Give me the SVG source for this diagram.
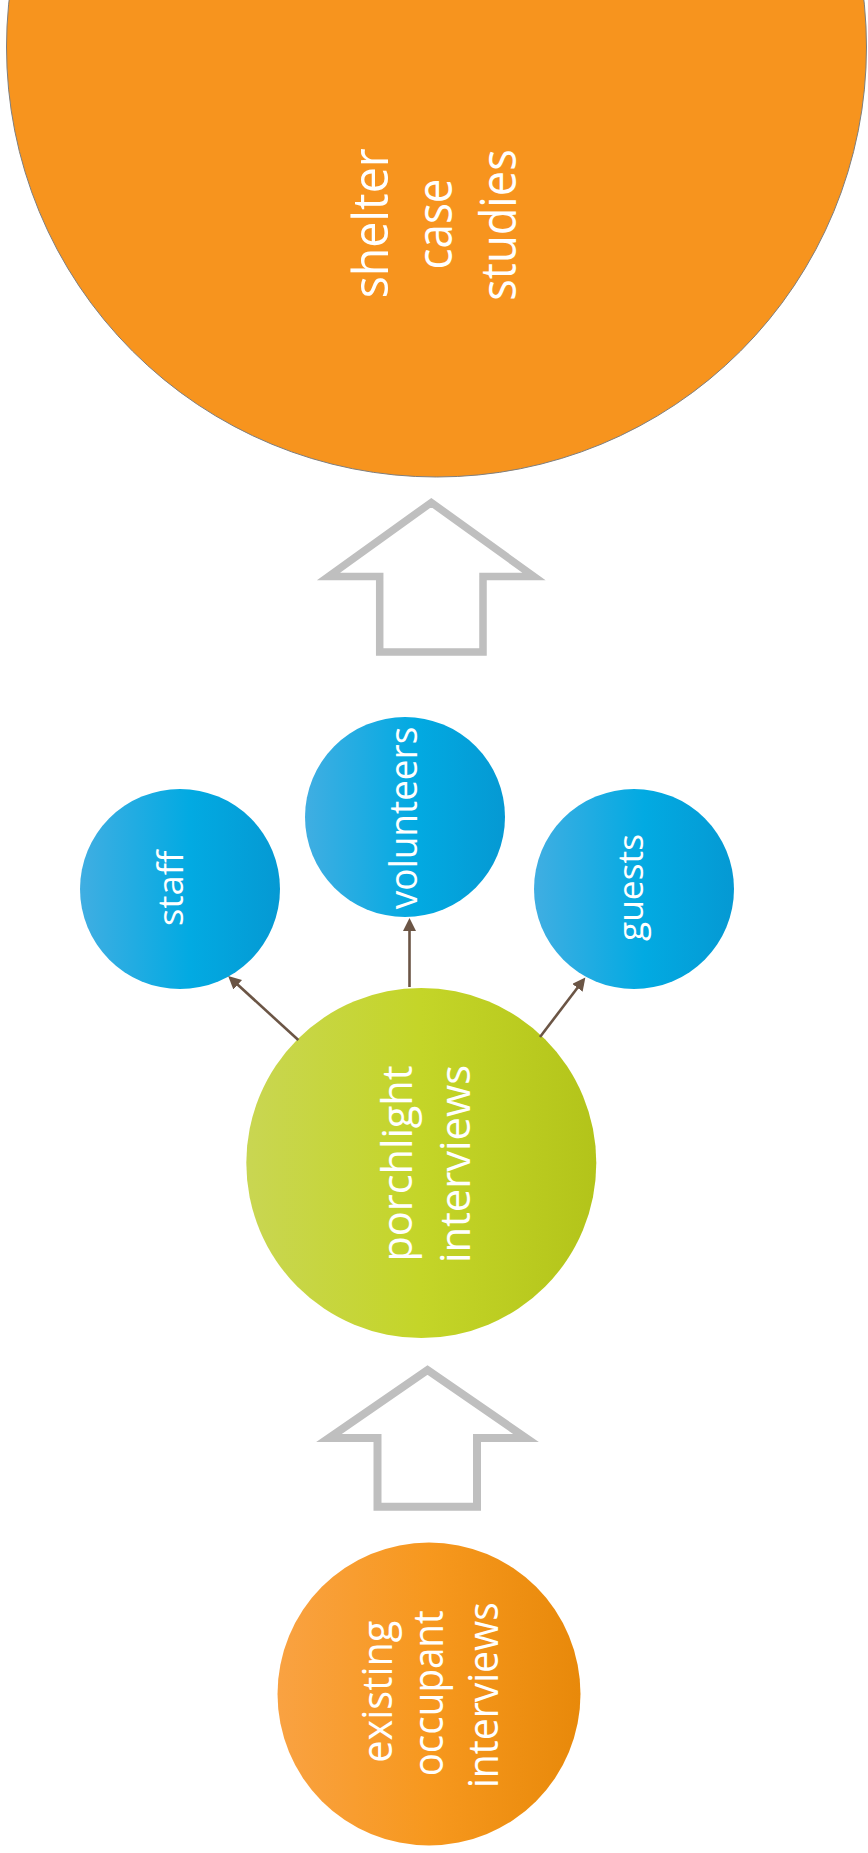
<svg xmlns="http://www.w3.org/2000/svg" width="868" height="1853" viewBox="0 0 868 1853">
  <style>
    .lbl { font-family: "Open Sans", "Noto Sans", "Liberation Sans", sans-serif; fill: #ffffff; text-anchor: middle; }
    .bigarrow { fill: #ffffff; stroke: #BFBFBF; stroke-linejoin: miter; stroke-miterlimit: 10; }
    .conn { stroke: #6B5545; stroke-width: 2.6; fill: none; }
  </style>
  <defs>
    <linearGradient id="gBlue" x1="0" y1="0" x2="1" y2="0">
      <stop offset="0" stop-color="#40AEE2"/>
      <stop offset="0.55" stop-color="#02AAE2"/>
      <stop offset="1" stop-color="#0599D3"/>
    </linearGradient>
    <linearGradient id="gGreen" x1="0" y1="0" x2="1" y2="0">
      <stop offset="0" stop-color="#C9D652"/>
      <stop offset="0.5" stop-color="#C4D528"/>
      <stop offset="1" stop-color="#B3C41A"/>
    </linearGradient>
    <linearGradient id="gOrange" x1="0" y1="0" x2="1" y2="0">
      <stop offset="0" stop-color="#F9A242"/>
      <stop offset="0.5" stop-color="#F7981E"/>
      <stop offset="1" stop-color="#E8890A"/>
    </linearGradient>
    <marker id="ah" markerUnits="userSpaceOnUse" markerWidth="14" markerHeight="13" refX="7" refY="6.5" orient="auto">
      <path d="M0,0 L13,6.5 L0,13 Z" fill="#6B5545"/>
    </marker>
  </defs>

  <g id="shelter-case-studies">
    <circle cx="436.5" cy="47" r="430" fill="#F7941E" stroke="#7F7F7F" stroke-width="1"/>
    <text class="lbl" font-size="50" transform="translate(388.3,223.3) rotate(-90)" textLength="150" lengthAdjust="spacingAndGlyphs">shelter</text>
    <text class="lbl" font-size="50" transform="translate(451.7,224) rotate(-90)" textLength="91" lengthAdjust="spacingAndGlyphs">case</text>
    <text class="lbl" font-size="50" transform="translate(516,225) rotate(-90)" textLength="151.5" lengthAdjust="spacingAndGlyphs">studies</text>
  </g>

  <g id="arrow-up-1">
    <path class="bigarrow" stroke-width="7.5" d="M431.3,502.5 L534,576.5 L483,576.5 L483,652 L379.7,652 L379.7,576.5 L328.5,576.5 Z"/>
  </g>

  <g id="staff">
    <circle cx="180" cy="889" r="100" fill="url(#gBlue)"/>
    <text class="lbl" font-size="35.5" transform="translate(183.3,888.3) rotate(-90)" textLength="75.5" lengthAdjust="spacingAndGlyphs">staff</text>
  </g>

  <g id="volunteers">
    <circle cx="405" cy="817" r="100" fill="url(#gBlue)"/>
    <text class="lbl" font-size="37.5" transform="translate(416.7,818) rotate(-90)" textLength="182.5" lengthAdjust="spacingAndGlyphs">volunteers</text>
  </g>

  <g id="guests">
    <circle cx="634" cy="889" r="100" fill="url(#gBlue)"/>
    <text class="lbl" font-size="35.5" transform="translate(643.3,887.5) rotate(-90)" textLength="107" lengthAdjust="spacingAndGlyphs">guests</text>
  </g>

  <g id="porchlight-interviews">
    <circle cx="421.3" cy="1163" r="175" fill="url(#gGreen)"/>
    <text class="lbl" font-size="42.5" transform="translate(412,1163.5) rotate(-90)" textLength="196" lengthAdjust="spacingAndGlyphs">porchlight</text>
    <text class="lbl" font-size="42.5" transform="translate(470,1164) rotate(-90)" textLength="198" lengthAdjust="spacingAndGlyphs">interviews</text>
  </g>

  <g id="arrow-up-2">
    <path class="bigarrow" stroke-width="8" d="M427.5,1370 L526,1438 L477,1438 L477,1506.7 L377.5,1506.7 L377.5,1438 L329,1438 Z"/>
  </g>

  <g id="existing-occupant-interviews">
    <circle cx="429" cy="1694" r="151.5" fill="url(#gOrange)"/>
    <text class="lbl" font-size="41.5" transform="translate(391.7,1691.7) rotate(-90)" textLength="142" lengthAdjust="spacingAndGlyphs">existing</text>
    <text class="lbl" font-size="41.5" transform="translate(443.3,1693.3) rotate(-90)" textLength="166" lengthAdjust="spacingAndGlyphs">occupant</text>
    <text class="lbl" font-size="41.5" transform="translate(498.3,1695) rotate(-90)" textLength="186" lengthAdjust="spacingAndGlyphs">interviews</text>
  </g>

  <g id="connectors">
    <line class="conn" x1="298.3" y1="1040" x2="232.6" y2="980" marker-end="url(#ah)"/>
    <line class="conn" x1="409.5" y1="987" x2="409.5" y2="924" marker-end="url(#ah)"/>
    <line class="conn" x1="540" y1="1037" x2="581.7" y2="982.2" marker-end="url(#ah)"/>
  </g>
</svg>
